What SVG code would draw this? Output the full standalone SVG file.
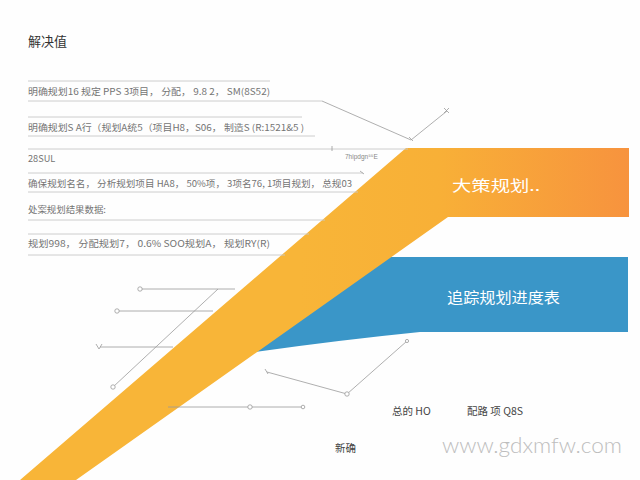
<svg xmlns="http://www.w3.org/2000/svg" width="640" height="480" viewBox="0 0 640 480">
<style>
.t{font-family:"Noto Sans CJK SC","Liberation Sans",sans-serif;fill:#747474;font-size:9.2px}
.rule{stroke:#c8c8c8;stroke-width:0.9;fill:none}
.c{stroke:#9a9a9a;stroke-width:0.8;fill:none}
.dot{fill:#fff;stroke:#999;stroke-width:0.8}
.w{font-family:"Noto Sans CJK SC","Liberation Sans",sans-serif;fill:#fff;font-size:15px}
.b{font-family:"Noto Sans CJK SC","Liberation Sans",sans-serif;font-size:10.5px;fill:#444}
</style>
<defs>
<linearGradient id="og" gradientUnits="userSpaceOnUse" x1="300" y1="0" x2="629" y2="0">
<stop offset="0" stop-color="#F8B538"/>
<stop offset="0.42" stop-color="#F8B037"/>
<stop offset="1" stop-color="#F7933E"/>
</linearGradient>
</defs>
<rect width="640" height="480" fill="#fefefe"/>
<g id="shapes">
<path id="blue" d="M370,257 H628 V332 H420 Q340,340 255,352 L240,352 Z" fill="#3A96C8"/>
<path id="orange" d="M20,480 L406,148 H629 V217 H448 L76,480 Z" fill="url(#og)"/>
</g>
<g id="title"><text x="28" y="46" style="font-family:'Noto Sans CJK SC','Liberation Sans',sans-serif;font-size:13px;fill:#333">解决值</text></g>
<g id="rules">
<line class="rule" x1="28" y1="81" x2="270" y2="81"/>
<line class="rule" x1="28" y1="101" x2="322" y2="101"/>
<line class="rule" x1="28" y1="117" x2="302" y2="117"/>
<line class="rule" x1="28" y1="136" x2="315" y2="136"/>
<line class="rule" x1="28" y1="149" x2="408" y2="149"/>
<line class="rule" x1="28" y1="173" x2="363" y2="173"/>
<line class="rule" x1="28" y1="192" x2="358" y2="192"/>
<line class="rule" x1="28" y1="220" x2="325" y2="220"/>
<line class="rule" x1="28" y1="234" x2="309" y2="234"/>
<line class="rule" x1="28" y1="255" x2="285" y2="255"/>
</g>
<g id="rows">
<text class="t" x="28" y="95" textLength="242" lengthAdjust="spacingAndGlyphs">明确规划16  规定 PPS 3项目， 分配， 9.8 2， SM(8S52)</text>
<text class="t" x="28" y="131" textLength="276" lengthAdjust="spacingAndGlyphs">明确规划S A行（规划A统5（项目H8，S06，  制造S (R:1521&amp;5 )</text>
<text class="t" x="28" y="162">28SUL</text>
<text class="t" x="28" y="187" textLength="324" lengthAdjust="spacingAndGlyphs">确保规划名名， 分析规划项目 HA8， 50%项， 3项名76, 1项目规划， 总规03</text>
<text class="t" x="28" y="213" textLength="78" lengthAdjust="spacingAndGlyphs">处案规划结果数据:</text>
<text class="t" x="28" y="247" textLength="242" lengthAdjust="spacingAndGlyphs">规划998， 分配规划7， 0.6% SOO规划A， 规划RY(R)</text>
<text x="345" y="159" style="font-family:'Liberation Sans',sans-serif;font-size:6.5px;fill:#888">7hipdgn⁵⁵E</text>
</g>
<g id="band-labels">
<text class="w" x="452" y="191" textLength="88" lengthAdjust="spacingAndGlyphs">大策规划..</text>
<text class="w" x="447" y="303" textLength="113" lengthAdjust="spacingAndGlyphs">追踪规划进度表</text>
</g>
<g id="connectors">
<polyline class="c" points="322,101 411,140 447,111"/>
<path class="c" d="M409,137 l4,4 M444,108 l5,5 M444,113 l5,-5"/>
<path class="c" d="M332,146 v5 M360,171 l4,3"/>
<line class="c" x1="140" y1="289" x2="235" y2="289"/>
<line class="c" x1="117" y1="311" x2="213" y2="311"/>
<line class="c" x1="100" y1="347" x2="173" y2="347"/>
<line class="c" x1="218" y1="289" x2="113" y2="387"/>
<line class="c" x1="168" y1="407" x2="303" y2="407"/>
<polyline class="c" points="267,372 347,394 407,341"/>
<circle class="dot" cx="140" cy="289" r="2.2"/>
<circle class="dot" cx="117" cy="311" r="2.2"/>
<path class="c" d="M96,344 l3,5 l3,-5"/>
<circle class="dot" cx="113" cy="387" r="2.2"/>
<circle class="dot" cx="250" cy="407" r="2.2"/>
<circle class="dot" cx="303" cy="407" r="1.8"/>
<circle class="dot" cx="347" cy="394" r="2.2"/>
<circle class="dot" cx="407" cy="341" r="1.6"/>
<path class="c" d="M265,369 l3,5"/>
</g>
<g id="bottom-labels">
<text class="b" x="392" y="415">总的 HO</text>
<text class="b" x="467" y="415">配路 项 Q8S</text>
<text class="b" x="335" y="452">新确</text>
<text x="442" y="453" textLength="180" lengthAdjust="spacingAndGlyphs" style="font-family:Lato,'Open Sans',sans-serif;font-weight:300;font-size:21px;fill:#bdbdbd">www.gdxmfw.com</text>
</g>
</svg>
